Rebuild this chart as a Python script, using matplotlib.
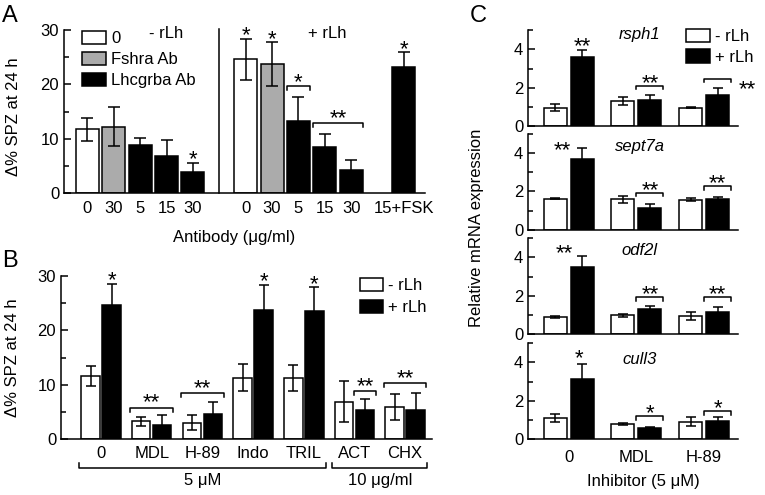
import numpy as np
import matplotlib
matplotlib.use('Agg')
import matplotlib.pyplot as plt
from matplotlib.ticker import MultipleLocator, FixedLocator
from matplotlib.transforms import blended_transform_factory

plt.rcParams['font.family'] = ['Liberation Sans', 'DejaVu Sans']
plt.rcParams['font.size'] = 12
plt.rcParams['axes.linewidth'] = 1.1

# ---- panel A: antibody blocking, -rLh / +rLh ----
a_ticks = ['0', '30', '5', '15', '30', '0', '30', '5', '15', '30', '15+FSK']
a_kind = ['0', 'Fshra Ab', 'Lhcgrba Ab', 'Lhcgrba Ab', 'Lhcgrba Ab',
          '0', 'Fshra Ab', 'Lhcgrba Ab', 'Lhcgrba Ab', 'Lhcgrba Ab', 'Lhcgrba Ab']
a_vals = [11.7, 12.2, 8.75, 6.9, 3.9, 24.6, 23.7, 13.2, 8.45, 4.2, 23.1]
a_errs = [2.1, 3.6, 1.4, 2.8, 1.6, 3.8, 4.0, 4.4, 2.4, 1.9, 2.8]
a_sig = ['', '', '', '', '*', '*', '*', '', '', '', '*']
a_brackets = [(7, 7, 19.7, '*'), (8, 9, 12.95, '**')]   # first bar, last bar, height, label

# ---- panel B: inhibitors ----
b_cats = ['0', 'MDL', 'H-89', 'Indo', 'TRIL', 'ACT', 'CHX']
b_minus = [11.6, 3.3, 3.05, 11.3, 11.2, 6.9, 5.9]
b_minus_err = [1.9, 0.8, 1.4, 2.5, 2.4, 3.8, 2.4]
b_plus = [24.7, 2.6, 4.6, 23.7, 23.5, 5.4, 5.3]
b_plus_err = [3.8, 1.95, 2.3, 4.7, 4.4, 1.95, 3.2]
b_sig = ['*', '', '', '*', '*', '', '']
b_brackets = [(1, 'both', 5.8), (2, 'both', 8.5), (5, 'plus', 8.9), (6, 'both', 10.35)]
b_groups = [('5 \u03bcM', 0, 4), ('10 \u03bcg/ml', 5, 6)]

# ---- panel C: qPCR ----
c_genes = ['rsph1', 'sept7a', 'odf2l', 'cull3']
c_cats = ['0', 'MDL', 'H-89']
c_minus = [[0.97, 1.32, 0.97], [1.62, 1.58, 1.57], [0.90, 0.99, 0.94], [1.10, 0.78, 0.92]]
c_minus_err = [[0.17, 0.20, 0.03], [0.03, 0.17, 0.10], [0.07, 0.07, 0.21], [0.22, 0.05, 0.25]]
c_plus = [[3.60, 1.39, 1.62], [3.66, 1.12, 1.60], [3.49, 1.29, 1.14], [3.15, 0.60, 0.94]]
c_plus_err = [[0.35, 0.26, 0.35], [0.60, 0.24, 0.10], [0.56, 0.20, 0.30], [0.77, 0.03, 0.22]]
c_sig = ['**', '**', '**', '*']
c_bracket_y = [[2.09, 2.45], [1.90, 2.25], [1.92, 1.92], [1.19, 1.45]]
c_zero_star = [(0, 4.5), (-14, 4.51), (-13, 4.56), (-2, 4.56)]  # x shift (pt), height
c_gene_y = [4.75, 4.3, 4.34, 4.13]

STAR = 16
LW = 1.1


def star(ax, x, y, s, dy=0.0, dx=0.0):
    # the asterisk glyph sits ~0.58 em above the baseline
    ax.annotate(s, (x, y), xytext=(dx, dy - 0.58 * STAR), textcoords='offset points',
                ha='center', va='baseline', fontsize=STAR, annotation_clip=False)


def bracket(ax, x0, x1, y, tick):
    ax.plot([x0, x0, x1, x1], [y - tick, y, y, y - tick], color='k', lw=LW, clip_on=False)


def style_y(ax, major, minor):
    for s in ['top', 'right']:
        ax.spines[s].set_visible(False)
    ax.yaxis.set_major_locator(major)
    ax.yaxis.set_minor_locator(minor)
    ax.tick_params(axis='y', which='major', direction='in', length=5, width=LW)
    ax.tick_params(axis='y', which='minor', direction='in', length=3.5, width=LW)
    ax.tick_params(axis='x', length=0)


fig = plt.figure(figsize=(7.65, 4.95), dpi=100)
W, H = 765.0, 495.0


def px_axes(left, top, right, bottom):
    return fig.add_axes([left / W, 1 - bottom / H, (right - left) / W, (bottom - top) / H])


# ================= A =================
axA = px_axes(64, 30, 425, 193)
posA = np.arange(len(a_vals)) + np.repeat([0, 1, 2], [5, 5, 1])
wA = 0.87
colA = {'0': 'white', 'Fshra Ab': '#ababab', 'Lhcgrba Ab': 'black'}
handles = []
for kind in ['0', 'Fshra Ab', 'Lhcgrba Ab']:
    idx = [i for i, k in enumerate(a_kind) if k == kind]
    h = axA.bar(posA[idx], [a_vals[i] for i in idx], width=wA, color=colA[kind],
                edgecolor='black', linewidth=LW, label=kind)
    handles.append(h)
axA.errorbar(posA, a_vals, yerr=a_errs, fmt='none', ecolor='k', elinewidth=LW,
             capsize=4.5, capthick=LW)
for x, v, e, s in zip(posA, a_vals, a_errs, a_sig):
    if s:
        star(axA, x, v + e, s, dy=7.5)
for i0, i1, y, s in a_brackets:
    bracket(axA, posA[i0] - wA / 2, posA[i1] + wA / 2, y, 0.8)
    star(axA, (posA[i0] + posA[i1]) / 2, y, s, dy=8)
axA.plot([5, 5], [0, 30.2], color='k', lw=LW, clip_on=False)
axA.text(3, 29.4, '- rLh', ha='center', va='center')
axA.text(9.1, 29.4, '+ rLh', ha='center', va='center')
axA.set_xlim(-0.89, 12.8)
axA.set_ylim(0, 30)
style_y(axA, MultipleLocator(10), MultipleLocator(5))
axA.set_xticks(posA)
axA.set_xticklabels(a_ticks)
axA.tick_params(axis='x', pad=6)
axA.set_xlabel('Antibody (\u03bcg/ml)')
axA.xaxis.set_label_coords((234 - 64) / 361, -0.23)
axA.set_ylabel('\u0394% SPZ at 24 h')
axA.yaxis.set_label_coords(-0.12, 0.47)
axA.legend(handles=handles, loc='upper left', bbox_to_anchor=(0.05, 0.995), frameon=False,
           handlelength=1.45, handleheight=0.8, handletextpad=0.3, labelspacing=0.35,
           borderpad=0, borderaxespad=0)

# ================= B =================
axB = px_axes(61, 276, 432, 439.3)
xB = np.arange(len(b_cats))
wB, offB = 0.365, 0.207
hm = axB.bar(xB - offB, b_minus, width=wB, color='white', edgecolor='black', linewidth=LW,
             label='- rLh')
hp = axB.bar(xB + offB, b_plus, width=wB, color='black', edgecolor='black', linewidth=LW,
             label='+ rLh')
axB.errorbar(xB - offB, b_minus, yerr=b_minus_err, fmt='none', ecolor='k', elinewidth=LW,
             capsize=3.5, capthick=LW)
axB.errorbar(xB + offB, b_plus, yerr=b_plus_err, fmt='none', ecolor='k', elinewidth=LW,
             capsize=3.5, capthick=LW)
for x, v, e, s in zip(xB + offB, b_plus, b_plus_err, b_sig):
    if s:
        star(axB, x, v + e, s, dy=7.5)
for g, which, y in b_brackets:
    x0 = g - offB - wB / 2 - 0.03 if which == 'both' else g + offB - wB / 2 - 0.03
    x1 = g + offB + wB / 2 + 0.03
    bracket(axB, x0, x1, y, 0.8)
    star(axB, (x0 + x1) / 2, y, '**', dy=8.6)
axB.set_xlim(-0.79, 6.53)
axB.set_ylim(0, 30)
style_y(axB, MultipleLocator(10), MultipleLocator(5))
axB.set_xticks(xB)
axB.set_xticklabels(b_cats)
axB.tick_params(axis='x', pad=5)
axB.set_ylabel('\u0394% SPZ at 24 h')
axB.yaxis.set_label_coords(-0.11, 0.5)
trB = blended_transform_factory(axB.transData, axB.transAxes)
for label, g0, g1 in b_groups:
    x0 = g0 - offB - wB / 2 - 0.05
    x1 = g1 + offB + wB / 2 + 0.05
    axB.plot([x0, x0, x1, x1], [-0.148, -0.176, -0.176, -0.148], color='k', lw=LW,
             transform=trB, clip_on=False)
    axB.text((x0 + x1) / 2, -0.25, label, transform=trB, ha='center', va='center')
axB.legend(handles=[hm, hp], loc='upper left', bbox_to_anchor=(0.806, 0.99), frameon=False,
           handlelength=1.4, handleheight=0.85, handletextpad=0.3, labelspacing=0.4,
           borderpad=0, borderaxespad=0)

# ================= C =================
tops = [30, 133.5, 238, 343]
xC = np.arange(len(c_cats))
wC, offC = 0.34, 0.2
for i, gene in enumerate(c_genes):
    ax = px_axes(528, tops[i], 738, tops[i] + 96.3)
    hm = ax.bar(xC - offC, c_minus[i], width=wC, color='white', edgecolor='black',
                linewidth=LW, label='- rLh')
    hp = ax.bar(xC + offC, c_plus[i], width=wC, color='black', edgecolor='black',
                linewidth=LW, label='+ rLh')
    ax.errorbar(xC - offC, c_minus[i], yerr=c_minus_err[i], fmt='none', ecolor='k',
                elinewidth=LW, capsize=3.5, capthick=LW)
    ax.errorbar(xC + offC, c_plus[i], yerr=c_plus_err[i], fmt='none', ecolor='k',
                elinewidth=LW, capsize=3.5, capthick=LW)
    dx, ys = c_zero_star[i]
    star(ax, xC[0] + offC, ys, c_sig[i], dx=dx)
    for g, y in zip([1, 2], c_bracket_y[i]):
        x0 = g + offC - wC / 2 - 0.03
        x1 = g + offC + wC / 2 + 0.03
        bracket(ax, x0, x1, y, 0.17)
        if i == 0 and g == 2:
            star(ax, 2.64, 2.31, c_sig[i])   # label sits beside the bracket here
        else:
            star(ax, (x0 + x1) / 2, y, c_sig[i], dy=7.3)
    ax.text(1.05, c_gene_y[i], gene, style='italic', ha='center', va='center')
    ax.set_xlim(-0.6, 2.5)
    ax.set_ylim(0, 5)
    style_y(ax, FixedLocator([0, 2, 4]), FixedLocator([1, 3, 5]))
    ax.set_xticks(xC)
    if i == len(c_genes) - 1:
        ax.set_xticklabels(c_cats)
        ax.tick_params(axis='x', pad=8)
        ax.set_xlabel('Inhibitor (5 \u03bcM)')
        ax.xaxis.set_label_coords((643 - 528) / 210, -0.36)
    else:
        ax.set_xticklabels([])
    if i == 0:
        ax.legend(handles=[hm, hp], loc='upper left', bbox_to_anchor=(0.752, 1.01),
                  frameon=False, handlelength=1.45, handleheight=0.85, handletextpad=0.3,
                  labelspacing=0.3, borderpad=0, borderaxespad=0)

fig.text(477 / W, 1 - 228 / H, 'Relative mRNA expression', rotation=90, ha='center', va='center')

# panel letters
for letter, x, y in [('A', 2, 22), ('B', 2, 267), ('C', 470, 22)]:
    fig.text(x / W, 1 - y / H, letter, fontsize=17, ha='left', va='baseline')

fig.savefig('out.png', dpi=100)
